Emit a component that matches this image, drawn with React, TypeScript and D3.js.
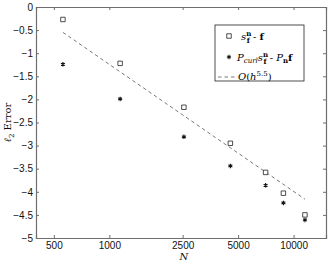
import React, { useEffect, useRef } from "react";
import * as d3 from "d3";

// values
const nValues = [560, 1145, 2540, 4540, 7050, 8810, 11530];
const errSpline = [-0.27, -1.22, -2.17, -2.95, -3.58, -4.03, -4.5];
const errCurl = [-1.24, -1.99, -2.81, -3.44, -3.86, -4.24, -4.61];
const refN = [560, 11530];
const refErr = [-0.55, -4.16];
const xTicks = [500, 1000, 2500, 5000, 10000];
const yTicks = [0, -0.5, -1, -1.5, -2, -2.5, -3, -3.5, -4, -4.5, -5];

const W = 332, H = 262;
const margin = { top: 7, right: 6, bottom: 24, left: 36 };

export default function App() {
  const ref = useRef<SVGSVGElement>(null);

  useEffect(() => {
    const svg = d3.select(ref.current);
    svg.selectAll("*").remove();

    const w = W - margin.left - margin.right;
    const h = H - margin.top - margin.bottom;
    const x = d3.scaleLog().domain([400, 15000]).range([0, w]);
    const y = d3.scaleLinear().domain([-5, 0]).range([h, 0]);

    const g = svg.append("g").attr("transform", `translate(${margin.left},${margin.top})`);
    const axisColor = "#6e6e6e";
    const fmt = (d: number) => (d < 0 ? "\u2212" + Math.abs(d) : String(d));

    // ticks on all four sides, pointing in
    const bottom = g.append("g").attr("transform", `translate(0,${h})`)
      .call(d3.axisBottom(x).tickValues(xTicks).tickSize(-3).tickPadding(4).tickFormat(d => String(d)));
    const top = g.append("g")
      .call(d3.axisTop(x).tickValues(xTicks).tickSize(-3).tickFormat(() => ""));
    const left = g.append("g")
      .call(d3.axisLeft(y).tickValues(yTicks).tickSize(-3).tickPadding(3).tickFormat(d => fmt(+d)));
    const right = g.append("g").attr("transform", `translate(${w},0)`)
      .call(d3.axisRight(y).tickValues(yTicks).tickSize(-3).tickFormat(() => ""));
    [bottom, top, left, right].forEach(a => {
      a.select(".domain").attr("stroke", axisColor).attr("stroke-width", 1.2);
      a.selectAll(".tick line").attr("stroke", axisColor);
      a.selectAll("text").attr("font-family", "Liberation Sans, Arial, sans-serif")
        .attr("font-size", 10).attr("fill", "#111");
    });

    // reference slope
    const line = d3.line<number>().x((d, i) => x(refN[i])).y(d => y(d));
    g.append("path").datum(refErr).attr("d", line).attr("fill", "none")
      .attr("stroke", "#555").attr("stroke-width", 0.8).attr("stroke-dasharray", "3.5,3");

    const sq = d3.symbol().type(d3.symbolSquare).size(20);
    g.selectAll(".sq").data(errSpline).join("path").attr("class", "sq")
      .attr("d", sq).attr("transform", (d, i) => `translate(${x(nValues[i])},${y(d)})`)
      .attr("fill", "white").attr("stroke", "#222").attr("stroke-width", 0.8);

    const star = d3.symbol().type(d3.symbolAsterisk).size(14);
    g.selectAll(".st").data(errCurl).join("path").attr("class", "st")
      .attr("d", star).attr("transform", (d, i) => `translate(${x(nValues[i])},${y(d)})`)
      .attr("fill", "none").attr("stroke", "#111").attr("stroke-width", 1.1);

    // legend
    const lg = svg.append("g").attr("transform", "translate(215,25)");
    lg.append("rect").attr("width", 89).attr("height", 56).attr("fill", "white")
      .attr("stroke", "#222").attr("stroke-width", 0.8);
    const serif = "DejaVu Serif, Liberation Serif, serif";
    lg.append("path").attr("d", sq).attr("transform", "translate(14,11)")
      .attr("fill", "white").attr("stroke", "#222").attr("stroke-width", 0.8);
    lg.append("path").attr("d", star).attr("transform", "translate(14,32)")
      .attr("fill", "none").attr("stroke", "#111").attr("stroke-width", 1.1);
    lg.append("line").attr("x1", 3).attr("x2", 21).attr("y1", 52).attr("y2", 52)
      .attr("stroke", "#555").attr("stroke-width", 0.8).attr("stroke-dasharray", "3.5,3");

    const t1 = lg.append("text").attr("x", 26).attr("y", 15).attr("font-family", serif).attr("font-size", 10);
    t1.append("tspan").attr("font-style", "italic").text("s");
    t1.append("tspan").attr("font-size", 7).attr("font-weight", "bold").attr("dy", -4).text("n");
    t1.append("tspan").attr("font-size", 7).attr("font-weight", "bold").attr("dx", -4.5).attr("dy", 7).text("f");
    t1.append("tspan").attr("dy", -3).text(" - ");
    t1.append("tspan").attr("font-weight", "bold").text("f");

    const t2 = lg.append("text").attr("x", 22).attr("y", 36).attr("font-family", serif).attr("font-size", 10);
    t2.append("tspan").attr("font-style", "italic").text("P");
    t2.append("tspan").attr("font-style", "italic").attr("font-size", 7).attr("dy", 2).text("curl");
    t2.append("tspan").attr("font-style", "italic").attr("dy", -2).text("s");
    t2.append("tspan").attr("font-size", 7).attr("font-weight", "bold").attr("dy", -4).text("n");
    t2.append("tspan").attr("font-size", 7).attr("font-weight", "bold").attr("dx", -4.5).attr("dy", 7).text("f");
    t2.append("tspan").attr("dy", -3).text(" - ");
    t2.append("tspan").attr("font-style", "italic").text("P");
    t2.append("tspan").attr("font-size", 7).attr("font-weight", "bold").attr("dy", 2).text("n");
    t2.append("tspan").attr("font-weight", "bold").attr("dy", -2).text("f");

    const t3 = lg.append("text").attr("x", 23).attr("y", 55).attr("font-family", serif).attr("font-size", 10);
    t3.append("tspan").attr("font-style", "italic").text("O");
    t3.append("tspan").text("(");
    t3.append("tspan").attr("font-style", "italic").text("h");
    t3.append("tspan").attr("font-size", 7).attr("dy", -4).text("5.5");
    t3.append("tspan").attr("dy", 4).text(")");

    // axis labels
    svg.append("text").attr("x", margin.left + x(2540)).attr("y", 260)
      .attr("text-anchor", "middle").attr("font-family", serif).attr("font-style", "italic")
      .attr("font-size", 10).attr("fill", "#111").text("N");
    const yl = svg.append("text").attr("transform", `translate(11,${margin.top + h / 2}) rotate(-90)`)
      .attr("text-anchor", "middle").attr("font-family", serif).attr("font-size", 10).attr("fill", "#111");
    yl.append("tspan").attr("font-style", "italic").text("\u2113");
    yl.append("tspan").attr("font-size", 7).attr("dy", 2.5).text("2");
    yl.append("tspan").attr("dy", -2.5).text(" Error");
  }, []);

  return (
    <svg ref={ref} width={W} height={H}
      style={{ position: "absolute", left: 0, top: 0, background: "white" }} />
  );
}
